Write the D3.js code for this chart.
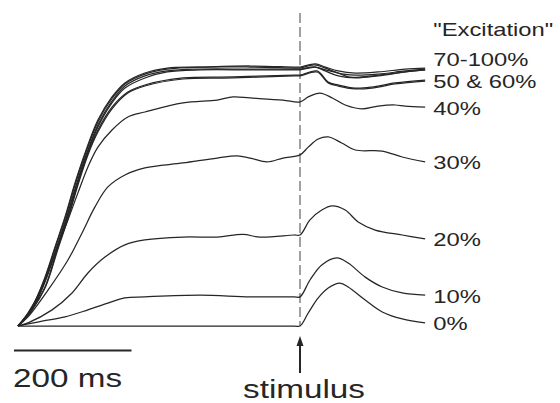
<!DOCTYPE html>
<html>
<head>
<meta charset="utf-8">
<script src="https://cdn.jsdelivr.net/npm/d3@7"></script>
<style>
  html, body { margin: 0; padding: 0; background: #fff; }
  svg { display: block; }
</style>
</head>
<body>
<svg id="chart" width="560" height="403"></svg>
<script>
// Averaged responses: time in ms, response in % of the saturated plateau.
const stimulusTime = 480;
const scaleBarMs = 200;

const exc100 = [[0,0],[24,7.3],[46,18.8],[63,30.4],[80,41.9],[97,55],[114,66.5],[136,79.2],[160,88.1],[182,93.5],[216,97.3],[254,99.2],[310,99.6],[395,100],[470,99.6],[480,99.6],[506,100.8],[523,99.6],[545,98.1],[574,97.3],[613,97.7],[659,98.8],[693,99.2]];
const exc90  = [[0,0],[24,7],[46,18.4],[63,29.8],[80,41.2],[97,54.2],[114,65.8],[136,78.5],[160,87.5],[182,93.1],[216,96.9],[254,98.8],[310,99.6],[395,99.6],[470,99.2],[480,99.2],[504,100.4],[523,99.2],[545,97.3],[574,96.5],[613,96.9],[659,98.1],[693,98.8]];
const exc80  = [[0,0],[24,6.5],[46,17.5],[63,28.5],[80,40],[97,52.7],[114,64.6],[136,77.3],[160,86.5],[182,92.3],[216,96.2],[254,98.1],[310,98.8],[395,98.8],[470,98.8],[480,98.8],[506,99.6],[523,98.1],[545,96.2],[574,95.4],[613,96.2],[659,97.7],[693,98.5]];
const exc70  = [[0,0],[24,6.2],[46,16.9],[63,27.7],[80,39.2],[97,51.9],[114,63.8],[136,76.5],[160,85.8],[182,91.5],[216,95.4],[254,97.7],[310,98.5],[395,98.5],[470,98.5],[480,98.5],[506,99.6],[523,98.5],[545,97.3],[562,95.8],[585,95.8],[642,97.3],[693,98.5]];
const exc60  = [[0,0],[24,6.5],[46,15],[68,30.4],[85,41.9],[102,55],[119,66.5],[136,75.4],[160,84.2],[187,90],[216,92.7],[281,95.4],[366,95.8],[470,96.5],[480,96.5],[509,98.1],[528,93.8],[545,92.7],[574,91.5],[602,91.9],[642,93.5],[693,94.6]];
const exc50  = [[0,0],[24,6.2],[46,14.6],[68,29.6],[85,41.2],[102,54.2],[119,65.8],[136,74.6],[160,83.5],[187,89.6],[216,92.3],[281,95],[366,95.4],[470,96.2],[480,96.2],[509,97.7],[528,93.5],[545,92.3],[574,91.2],[602,91.5],[642,93.1],[693,94.2]];
const exc40  = [[0,0],[17,5],[41,15],[63,28.1],[85,40.8],[102,51.2],[119,61.2],[136,68.8],[160,75.4],[187,80.4],[216,82.3],[281,85.8],[339,86.9],[366,88.1],[395,87.7],[451,86.9],[480,86.2],[494,88.1],[514,89.6],[535,87.7],[557,85],[585,83.5],[613,84.6],[642,85],[659,84.6],[693,84.2]];
const exc30  = [[0,0],[17,3.5],[51,13.8],[85,25.4],[109,35.8],[131,45.8],[153,53.5],[182,58.1],[216,60.8],[281,62.7],[339,64.6],[373,65.4],[395,64.6],[424,63.1],[451,64.6],[480,65.8],[494,68.8],[511,71.9],[528,72.7],[551,70.4],[574,67.7],[620,67.3],[654,65],[693,63.1]];
const exc20  = [[0,0],[17,1.2],[58,6.2],[92,12.7],[119,20.4],[148,26.5],[182,31.2],[216,33.1],[281,34.2],[339,34.2],[383,35.2],[412,34.2],[470,35],[480,35],[497,40.8],[517,44.6],[535,46.2],[557,44.6],[579,40],[608,36.9],[654,35],[693,33.5]];
const exc10  = [[0,0],[41,1.9],[80,3.5],[119,6.2],[153,8.8],[182,10.8],[216,11.2],[310,11.9],[395,11.2],[470,11.2],[480,11.2],[497,17.7],[517,23.5],[543,26.2],[562,24.2],[591,18.8],[620,15],[654,12.7],[693,11.9]];
const exc0   = [[0,0],[240,0],[470,0],[480,0],[494,5],[511,10.8],[528,14.6],[548,16.5],[562,15],[591,10],[620,5.4],[654,2.7],[693,1.2]];

const groupLabels = ["70-100%", "50 & 60%", "40%", "30%", "20%", "10%", "0%"];
const groupCurves = [[exc100, exc90, exc80, exc70], [exc60, exc50], [exc40], [exc30], [exc20], [exc10], [exc0]];
const legendTitle = "\"Excitation\"";
const scaleBarLabel = "200 ms";
const stimulusLabel = "stimulus";

const svg = d3.select("#chart");

const x = d3.scaleLinear().domain([0, 700]).range([18, 18 + 700 * 117.5 / 200]);
const y = d3.scaleLinear().domain([0, 100]).range([326, 66]);

const ink = "#262626";
const line = d3.line().x(d => x(d[0])).y(d => y(d[1])).curve(d3.curveCatmullRom.alpha(0.5));

// stimulus marker
const xs = x(stimulusTime);
svg.append("line")
  .attr("x1", xs).attr("x2", xs)
  .attr("y1", 13).attr("y2", y(0))
  .attr("stroke", "#6e6e6e").attr("stroke-width", 1.3)
  .attr("stroke-dasharray", "10,4");

// traces
const traces = svg.append("g").attr("fill", "none").attr("stroke", ink)
  .attr("stroke-width", 1.25).attr("stroke-linejoin", "round");
groupCurves.forEach(curves => {
  curves.forEach(c => traces.append("path").attr("d", line(c)));
});

// horizontally stretched text
function label(txt, px, py, size, sx, anchor) {
  return svg.append("text")
    .attr("transform", `translate(${px},${py}) scale(${sx},1)`)
    .attr("font-family", "'Liberation Sans', Arial, Helvetica, sans-serif")
    .attr("font-size", size)
    .attr("fill", ink)
    .attr("text-anchor", anchor || "start")
    .text(txt);
}

// group labels at the end of their traces; a label that would collide
// with the one below it is pushed upward
const xEnd = x(700) + 4;
const pos = groupCurves.map(curves => {
  const ends = curves.map(c => c[c.length - 1][1]);
  return y(d3.mean(ends)) + 7.5;
});
const gap = 22.5;
for (let i = pos.length - 2; i >= 0; i--) {
  if (pos[i + 1] - pos[i] < gap) pos[i] = pos[i + 1] - gap;
}
groupLabels.forEach((t, i) => label(t, xEnd, pos[i], 17.5, 1.36));
label(legendTitle, xEnd, pos[0] - 29.8, 17.5, 1.36);

// time scale bar
const barX0 = x(0) - 4;
svg.append("line")
  .attr("x1", barX0).attr("x2", barX0 + (x(scaleBarMs) - x(0)))
  .attr("y1", 350.5).attr("y2", 350.5)
  .attr("stroke", ink).attr("stroke-width", 2);
label(scaleBarLabel, barX0 - 1, 387, 25, 1.33);

// stimulus arrow
const ay = y(0) + 10;
svg.append("line")
  .attr("x1", xs).attr("x2", xs)
  .attr("y1", ay + 8).attr("y2", ay + 37)
  .attr("stroke", ink).attr("stroke-width", 2);
svg.append("path")
  .attr("d", `M${xs},${ay} L${xs - 3.5},${ay + 10} L${xs + 3.5},${ay + 10} Z`)
  .attr("fill", ink);
label(stimulusLabel, xs + 4, 398, 25, 1.33, "middle");
</script>
</body>
</html>
